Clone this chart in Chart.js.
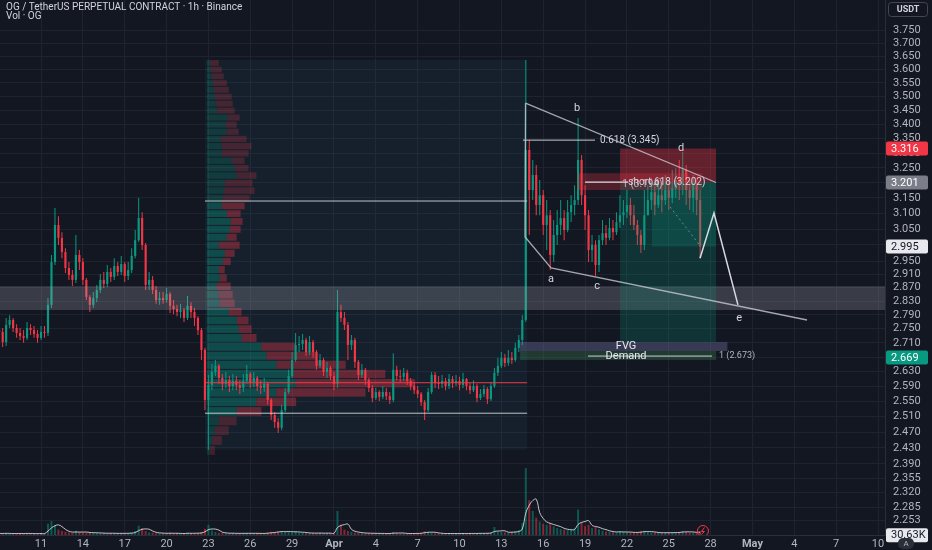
<!DOCTYPE html>
<html>
<head>
<meta charset="utf-8">
<script src="https://cdn.jsdelivr.net/npm/chart.js@4.4.1/dist/chart.umd.min.js"></script>
<style>
  html, body { margin: 0; padding: 0; background: #131722; overflow: hidden; }
  canvas { display: block; }
</style>
</head>
<body>
<canvas id="chart" width="932" height="550"></canvas>
<script>
// 6h candles, day 0 = Mar 11 00:00
const firstDay = -3;
const stepDays = 0.25;
const firstOpen = 2.746;

const closes = [
  2.741, 2.712, 2.761, 2.775, 2.752, 2.738, 2.729, 2.724, 2.752, 2.746,
  2.735, 2.724, 2.741, 2.738, 2.819, 2.947, 3.063, 3.022, 2.978, 2.929,
  2.908, 2.893, 2.969, 2.947, 2.893, 2.842, 2.819, 2.839, 2.863, 2.893,
  2.881, 2.917, 2.902, 2.935, 2.917, 2.941, 2.905, 2.923, 2.966, 3.015,
  3.085, 3.000, 2.878, 2.893, 2.863, 2.833, 2.839, 2.833, 2.851, 2.816,
  2.807, 2.798, 2.804, 2.781, 2.816, 2.798, 2.781, 2.746, 2.690, 2.554,
  2.594, 2.629, 2.646, 2.613, 2.597, 2.607, 2.591, 2.605, 2.594, 2.586,
  2.605, 2.624, 2.599, 2.613, 2.591, 2.586, 2.597, 2.554, 2.514, 2.496,
  2.481, 2.527, 2.575, 2.618, 2.662, 2.704, 2.707, 2.718, 2.684, 2.712,
  2.684, 2.646, 2.662, 2.629, 2.640, 2.618, 2.597, 2.798, 2.781, 2.761,
  2.704, 2.718, 2.657, 2.621, 2.635, 2.607, 2.586, 2.559, 2.575, 2.562,
  2.575, 2.564, 2.554, 2.635, 2.618, 2.616, 2.627, 2.605, 2.591, 2.580,
  2.570, 2.548, 2.527, 2.575, 2.621, 2.599, 2.597, 2.605, 2.591, 2.610,
  2.599, 2.605, 2.594, 2.610, 2.591, 2.580, 2.591, 2.559, 2.570, 2.583,
  2.556, 2.591, 2.627, 2.646, 2.668, 2.654, 2.668, 2.662, 2.696, 2.718,
  2.775, 3.311, 3.176, 3.226, 3.127, 3.159, 3.063, 3.094, 2.969, 3.031,
  3.063, 3.085, 3.047, 3.104, 3.127, 3.143, 3.277, 3.159, 3.094, 2.984,
  3.000, 2.938, 3.015, 3.037, 3.022, 3.053, 3.040, 3.072, 3.094, 3.104,
  3.127, 3.094, 3.063, 3.031, 3.000, 3.094, 3.143, 3.169, 3.127, 3.159,
  3.143, 3.176, 3.150, 3.182, 3.209, 3.192, 3.243, 3.176, 3.150, 3.192,
  3.143, 2.995
];

const highs = [
  2.769, 2.752, 2.781, 2.789, 2.781, 2.763, 2.752, 2.746, 2.769, 2.763,
  2.758, 2.746, 2.758, 2.758, 2.839, 2.969, 3.117, 3.091, 3.040, 2.990,
  2.947, 2.923, 3.031, 2.984, 2.959, 2.899, 2.848, 2.857, 2.878, 2.911,
  2.917, 2.938, 2.929, 2.959, 2.947, 2.966, 2.947, 2.947, 2.990, 3.047,
  3.150, 3.104, 3.006, 2.917, 2.905, 2.875, 2.857, 2.857, 2.869, 2.857,
  2.833, 2.819, 2.822, 2.810, 2.845, 2.827, 2.810, 2.786, 2.752, 2.696,
  2.621, 2.651, 2.662, 2.651, 2.624, 2.629, 2.618, 2.624, 2.618, 2.607,
  2.624, 2.648, 2.629, 2.629, 2.618, 2.607, 2.613, 2.602, 2.559, 2.522,
  2.506, 2.541, 2.586, 2.635, 2.684, 2.738, 2.729, 2.735, 2.724, 2.729,
  2.718, 2.690, 2.679, 2.668, 2.657, 2.646, 2.629, 2.863, 2.819, 2.798,
  2.769, 2.732, 2.724, 2.662, 2.651, 2.640, 2.613, 2.594, 2.586, 2.580,
  2.591, 2.586, 2.575, 2.681, 2.646, 2.635, 2.640, 2.635, 2.613, 2.599,
  2.591, 2.575, 2.554, 2.586, 2.629, 2.629, 2.618, 2.621, 2.613, 2.624,
  2.618, 2.621, 2.616, 2.627, 2.613, 2.599, 2.607, 2.597, 2.583, 2.594,
  2.588, 2.602, 2.640, 2.668, 2.684, 2.679, 2.690, 2.684, 2.710, 2.732,
  2.789, 3.635, 3.345, 3.277, 3.260, 3.209, 3.176, 3.143, 3.111, 3.079,
  3.111, 3.143, 3.111, 3.143, 3.159, 3.192, 3.423, 3.294, 3.192, 3.111,
  3.031, 3.015, 3.031, 3.079, 3.063, 3.085, 3.079, 3.104, 3.159, 3.143,
  3.176, 3.150, 3.127, 3.079, 3.047, 3.176, 3.192, 3.216, 3.192, 3.216,
  3.199, 3.226, 3.209, 3.243, 3.249, 3.277, 3.304, 3.260, 3.209, 3.226,
  3.209, 3.176
];

const lows = [
  2.724, 2.698, 2.701, 2.752, 2.741, 2.724, 2.718, 2.710, 2.718, 2.732,
  2.724, 2.710, 2.718, 2.724, 2.729, 2.810, 2.938, 3.000, 2.959, 2.914,
  2.893, 2.875, 2.884, 2.923, 2.878, 2.833, 2.798, 2.810, 2.827, 2.854,
  2.869, 2.872, 2.887, 2.893, 2.905, 2.908, 2.887, 2.893, 2.914, 2.959,
  3.009, 2.984, 2.863, 2.863, 2.851, 2.822, 2.819, 2.822, 2.825, 2.795,
  2.792, 2.786, 2.781, 2.769, 2.775, 2.781, 2.758, 2.732, 2.662, 2.527,
  2.425, 2.580, 2.618, 2.597, 2.580, 2.586, 2.575, 2.580, 2.580, 2.570,
  2.575, 2.597, 2.586, 2.588, 2.578, 2.570, 2.575, 2.541, 2.501, 2.481,
  2.468, 2.475, 2.522, 2.570, 2.613, 2.657, 2.684, 2.690, 2.673, 2.676,
  2.668, 2.635, 2.640, 2.618, 2.613, 2.607, 2.580, 2.586, 2.769, 2.746,
  2.662, 2.690, 2.640, 2.607, 2.613, 2.594, 2.575, 2.548, 2.554, 2.551,
  2.556, 2.554, 2.543, 2.548, 2.607, 2.602, 2.605, 2.594, 2.580, 2.570,
  2.559, 2.538, 2.501, 2.522, 2.570, 2.586, 2.583, 2.586, 2.580, 2.583,
  2.586, 2.591, 2.580, 2.586, 2.580, 2.570, 2.575, 2.548, 2.554, 2.562,
  2.543, 2.551, 2.586, 2.618, 2.640, 2.643, 2.646, 2.651, 2.657, 2.684,
  2.704, 2.769, 3.031, 3.143, 3.094, 3.094, 3.031, 2.984, 2.923, 2.947,
  3.000, 3.031, 3.015, 3.040, 3.072, 3.094, 3.127, 3.127, 3.047, 2.947,
  2.947, 2.905, 2.917, 3.000, 3.000, 3.015, 3.015, 3.031, 3.053, 3.063,
  3.085, 3.063, 3.047, 3.000, 2.975, 2.984, 3.094, 3.111, 3.094, 3.117,
  3.104, 3.127, 3.111, 3.133, 3.150, 3.143, 3.159, 3.127, 3.111, 3.104,
  3.094, 2.959
];

// volume in K
const volumes = [
  60, 55, 70, 50, 45, 60, 65, 50, 55, 60,
  45, 50, 60, 55, 420, 520, 380, 200, 150, 120,
  90, 80, 160, 110, 90, 80, 100, 80, 70, 60,
  75, 60, 70, 55, 60, 65, 70, 60, 90, 150,
  350, 260, 150, 100, 90, 70, 60, 65, 60, 80,
  55, 60, 50, 55, 90, 60, 55, 70, 120, 230,
  380, 160, 110, 80, 70, 65, 60, 70, 55, 60,
  65, 70, 60, 55, 65, 60, 55, 90, 120, 110,
  130, 150, 110, 130, 100, 140, 90, 80, 70, 75,
  65, 70, 80, 60, 70, 65, 75, 900, 380, 200,
  150, 120, 90, 80, 70, 65, 60, 70, 55, 60,
  50, 55, 60, 110, 70, 55, 60, 50, 55, 60,
  65, 80, 140, 120, 80, 60, 55, 60, 50, 55,
  60, 50, 55, 60, 50, 65, 60, 55, 70, 60,
  75, 90, 300, 120, 110, 100, 90, 120, 140, 180,
  450, 2500, 1300, 900, 650, 500, 420, 380, 450, 320,
  260, 220, 200, 180, 190, 260, 950, 480, 330, 380,
  260, 300, 220, 160, 130, 120, 110, 100, 140, 110,
  100, 90, 95, 100, 140, 160, 110, 95, 90, 85,
  80, 90, 85, 95, 90, 110, 150, 120, 95, 90,
  100, 140
];
const lastVolume = 30.63;

const tickDays = [0, 3, 6, 9, 12, 15, 18, 21, 24, 27, 30, 33, 36, 39, 42, 45, 48, 51, 54, 57, 60];
const tickLabels = ['11', '14', '17', '20', '23', '26', '29', 'Apr', '4', '7', '10', '13', '16', '19', '22', '25', '28', 'May', '4', '7', '10'];

const priceTicks = [
  3.750, 3.700, 3.650, 3.600, 3.550, 3.500, 3.450, 3.400, 3.350, 3.300,
  3.250, 3.200, 3.150, 3.100, 3.050, 3.000, 2.950, 2.910, 2.870, 2.830,
  2.790, 2.750, 2.710, 2.670, 2.630, 2.590, 2.550, 2.510, 2.470, 2.430,
  2.390, 2.355, 2.320, 2.285, 2.253
];

// fixed range volume profile, rows of 0.025 from 2.410 upward
const profileLow = 2.410;
const profileStep = 0.025;
const profileUp = [
  30, 50, 80, 120, 300, 500, 700, 900, 850, 700,
  600, 550, 350, 320, 300, 220, 130, 120, 100, 130,
  120, 160, 180, 120, 200, 230, 240, 200, 150, 160,
  170, 180, 300, 280, 250, 150, 150, 140, 200, 190,
  210, 100, 90, 80, 70, 60, 50, 40, 30
];
const profileDown = [
  50, 100, 140, 180, 250, 400, 900, 1200, 950, 700,
  500, 350, 150, 130, 120, 130, 150, 140, 140, 70,
  60, 80, 100, 210, 100, 110, 120, 140, 230, 270,
  310, 280, 200, 140, 130, 270, 300, 260, 120, 110,
  120, 180, 170, 170, 150, 140, 120, 110, 90
];
const profileRange = { start: 11.75, end: 34.85, high: 3.635, low: 2.425 };
const profileLevels = { vah: 3.140, poc: 2.600, val: 2.519 };

// drawings
const zone = { low: 2.804, high: 2.874 };
const position = { start: 41.51, end: 48.39, entry: 3.201, stop: 3.316, target: 2.712, fill: 43.8, current: 2.995 };
const shortBox = { start: 38.42, end: 47.38, low: 3.176, high: 3.232 };
const fvg = { start: 34.34, end: 49.2, low: 2.687, high: 2.712, labelDay: 41.94 };
const demand = { start: 34.34, end: 48.39, low: 2.662, high: 2.687, level: 2.673, lineStart: 39.21, lineEnd: 48.1 };
const fibLine = { start: 34.55, end: 39.71, price: 3.345 };
const shortLine = { start: 39.0, end: 42.1, price: 3.202 };
const wedgeUpper = [[34.73, 3.476], [48.39, 3.201]];
const wedgeLower = [[34.73, 3.476], [34.70, 3.025], [36.56, 2.929], [54.91, 2.775]];
const projection = [[47.24, 2.959], [48.24, 3.101], [49.96, 2.819]];
const dashedPath = [[45.09, 3.121], [47.24, 2.998]];
const waveLabels = [['a', 36.56, 2.896], ['b', 38.42, 3.458], ['c', 39.86, 2.875], ['d', 45.88, 3.318], ['e', 50.04, 2.781]];

const bgColor = '#131722';
const gridColor = '#1f2330';
const textColor = '#b2b5be';
const upColor = '#089981';
const downColor = '#f23645';
const fontFamily = "Roboto, 'Noto Sans', sans-serif";

const days = closes.map((_, i) => firstDay + i * stepDays);
const opens = closes.map((c, i) => i === 0 ? firstOpen : closes[i - 1]);
const isUp = closes.map((c, i) => c >= opens[i]);
const candleColors = isUp.map(u => u ? upColor : downColor);
const volColors = isUp.map(u => u ? 'rgba(8,153,129,0.5)' : 'rgba(242,54,69,0.5)');
const volMA = volumes.map((v, i) => {
  const s = volumes.slice(Math.max(0, i - 3), i + 1);
  return s.reduce((a, b) => a + b, 0) / s.length;
});

function pathLine(ctx, chart, pts, color, width, dash) {
  const x = chart.scales.x, y = chart.scales.y;
  ctx.save();
  ctx.strokeStyle = color;
  ctx.lineWidth = width;
  ctx.setLineDash(dash || []);
  ctx.beginPath();
  pts.forEach((p, i) => {
    const px = x.getPixelForValue(p[0]), py = y.getPixelForValue(p[1]);
    if (i === 0) ctx.moveTo(px, py); else ctx.lineTo(px, py);
  });
  ctx.stroke();
  ctx.restore();
}

function box(ctx, chart, d1, d2, p1, p2, color) {
  const x = chart.scales.x, y = chart.scales.y;
  const x1 = x.getPixelForValue(d1), x2 = x.getPixelForValue(d2);
  const y1 = y.getPixelForValue(p1), y2 = y.getPixelForValue(p2);
  ctx.fillStyle = color;
  ctx.fillRect(Math.min(x1, x2), Math.min(y1, y2), Math.abs(x2 - x1), Math.abs(y2 - y1));
}

function text(ctx, str, px, py, color, size, align, weight) {
  ctx.font = (weight || 'normal') + ' ' + size + 'px ' + fontFamily;
  ctx.fillStyle = color;
  ctx.textAlign = align || 'left';
  ctx.textBaseline = 'middle';
  ctx.fillText(str, px, py);
}

function axisTag(ctx, py, str, bg, fg) {
  ctx.fillStyle = bg;
  ctx.beginPath();
  ctx.roundRect(886, py - 7, 42, 14, 2);
  ctx.fill();
  text(ctx, str, 891, py + 0.5, fg, 11);
}

const drawings = {
  id: 'drawings',
  beforeDraw(chart) {
    const ctx = chart.ctx;
    ctx.save();
    ctx.fillStyle = bgColor;
    ctx.fillRect(0, 0, chart.width, chart.height);
    ctx.restore();
  },
  beforeDatasetsDraw(chart) {
    const ctx = chart.ctx, a = chart.chartArea;
    const x = chart.scales.x, y = chart.scales.y;
    ctx.save();
    ctx.beginPath();
    ctx.rect(a.left, a.top, a.right - a.left, a.bottom - a.top);
    ctx.clip();
    // range box
    box(ctx, chart, profileRange.start, profileRange.end, profileRange.high, profileRange.low, 'rgba(41,128,150,0.09)');
    // profile rows
    const x0 = x.getPixelForValue(profileRange.start) + 2;
    const boxW = x.getPixelForValue(profileRange.end) - x0;
    const totals = profileUp.map((u, i) => u + profileDown[i]);
    const maxTotal = Math.max(...totals);
    const scale = boxW * 0.65 / maxTotal;
    profileUp.forEach((u, i) => {
      const lo = profileLow + i * profileStep, hi = lo + profileStep;
      const yTop = y.getPixelForValue(hi), yBot = y.getPixelForValue(lo);
      const h = Math.max(1, yBot - yTop - 1);
      const inside = lo >= profileLevels.val - 0.01 && hi <= profileLevels.vah + 0.01;
      const al = inside ? 0.36 : 0.22;
      const wu = u * scale, wd = profileDown[i] * scale;
      ctx.fillStyle = 'rgba(8,153,129,' + al + ')';
      ctx.fillRect(x0, yTop, wu, h);
      ctx.fillStyle = 'rgba(242,54,69,' + al + ')';
      ctx.fillRect(x0 + wu, yTop, wd, h);
    });
    ctx.restore();
  },
  afterDatasetsDraw(chart) {
    const ctx = chart.ctx, a = chart.chartArea;
    const x = chart.scales.x, y = chart.scales.y;
    ctx.save();
    ctx.beginPath();
    ctx.rect(a.left, a.top, a.right - a.left, a.bottom - a.top);
    ctx.clip();

    // support zone
    box(ctx, chart, x.min, x.max, zone.high, zone.low, 'rgba(178,181,190,0.24)');
    // profile levels
    pathLine(ctx, chart, [[profileRange.start, profileLevels.vah], [profileRange.end, profileLevels.vah]], 'rgba(220,222,228,0.85)', 1);
    pathLine(ctx, chart, [[profileRange.start, profileLevels.val], [profileRange.end, profileLevels.val]], 'rgba(220,222,228,0.85)', 1);
    pathLine(ctx, chart, [[profileRange.start, profileLevels.poc], [profileRange.end, profileLevels.poc]], downColor, 1);

    // position tool
    box(ctx, chart, position.start, position.end, position.stop, position.entry, 'rgba(242,54,69,0.36)');
    box(ctx, chart, position.start, position.end, position.entry, position.target, 'rgba(8,153,129,0.22)');
    box(ctx, chart, position.fill, position.end, position.entry, position.current, 'rgba(8,153,129,0.22)');
    box(ctx, chart, shortBox.start, shortBox.end, shortBox.high, shortBox.low, 'rgba(242,54,69,0.28)');

    // FVG / demand
    box(ctx, chart, fvg.start, fvg.end, fvg.high, fvg.low, 'rgba(125,120,175,0.35)');
    box(ctx, chart, demand.start, demand.end, demand.high, demand.low, 'rgba(70,150,95,0.28)');

    // fib + short lines
    pathLine(ctx, chart, [[fibLine.start, fibLine.price], [fibLine.end, fibLine.price]], 'rgba(220,222,228,0.9)', 1);
    text(ctx, '0.618 (3.345)', x.getPixelForValue(fibLine.end) + 5, y.getPixelForValue(fibLine.price), '#d1d4dc', 10);
    pathLine(ctx, chart, [[shortLine.start, shortLine.price], [shortLine.end, shortLine.price]], 'rgba(230,232,238,0.95)', 1.2);
    const sy = y.getPixelForValue(shortLine.price);
    text(ctx, 'short 618 (3.202)', x.getPixelForValue(shortLine.end), sy, '#d1d4dc', 10);
    text(ctx, '1 (3.194)', x.getPixelForValue(shortLine.end) - 6, sy + 2, 'rgba(209,212,220,0.8)', 10);

    // wedge
    pathLine(ctx, chart, wedgeUpper, 'rgba(200,203,212,0.8)', 1.3);
    pathLine(ctx, chart, wedgeLower, 'rgba(200,203,212,0.8)', 1.3);
    pathLine(ctx, chart, dashedPath, 'rgba(178,181,190,0.6)', 1, [2, 3]);
    pathLine(ctx, chart, projection, 'rgba(225,227,233,0.95)', 1.5);
    waveLabels.forEach(l => text(ctx, l[0], x.getPixelForValue(l[1]), y.getPixelForValue(l[2]), '#d1d4dc', 11, 'center'));

    // demand line and labels
    pathLine(ctx, chart, [[demand.lineStart, demand.level], [demand.lineEnd, demand.level]], 'rgba(220,222,228,0.9)', 1);
    const fx = x.getPixelForValue(fvg.labelDay);
    text(ctx, 'FVG', fx, y.getPixelForValue((fvg.high + fvg.low) / 2), '#e8e9ee', 11, 'center');
    text(ctx, 'Demand', fx, y.getPixelForValue(demand.level), '#e8e9ee', 11, 'center');
    text(ctx, '1 (2.673)', x.getPixelForValue(demand.lineEnd) + 7, y.getPixelForValue(demand.level), textColor, 9);

    // header
    text(ctx, 'OG / TetherUS PERPETUAL CONTRACT · 1h · Binance', 6, 7, '#d1d4dc', 10);
    text(ctx, 'Vol · OG', 6, 16, '#d1d4dc', 10);

    // alert icon
    const ix = x.getPixelForValue(47.45), iy = 531;
    ctx.strokeStyle = downColor;
    ctx.lineWidth = 1;
    ctx.beginPath();
    ctx.arc(ix, iy, 5.5, 0, Math.PI * 2);
    ctx.stroke();
    ctx.beginPath();
    ctx.moveTo(ix + 1.5, iy - 3.5);
    ctx.lineTo(ix - 1.5, iy + 0.5);
    ctx.lineTo(ix + 1.5, iy + 0.5);
    ctx.lineTo(ix - 1.5, iy + 3.5);
    ctx.stroke();
    ctx.restore();

    // price axis tags
    ctx.save();
    axisTag(ctx, y.getPixelForValue(position.stop), '3.316', '#f23645', '#ffffff');
    axisTag(ctx, y.getPixelForValue(position.entry), '3.201', '#7b7e88', '#ffffff');
    axisTag(ctx, y.getPixelForValue(closes[closes.length - 1]), closes[closes.length - 1].toFixed(3), '#e8e9ee', '#131722');
    axisTag(ctx, y.getPixelForValue(2.669), '2.669', '#089981', '#ffffff');
    const vy = Math.min(chart.scales.yv.getPixelForValue(lastVolume), 536);
    axisTag(ctx, vy + 1, lastVolume.toFixed(2) + 'K', '#e8e9ee', '#131722');
    // currency box
    ctx.strokeStyle = '#434651';
    ctx.lineWidth = 1;
    ctx.beginPath();
    ctx.roundRect(888.5, 2.5, 39, 14, 3);
    ctx.stroke();
    text(ctx, 'USDT', 908, 10, '#d1d4dc', 9, 'center', 'bold');
    // auto scale button
    ctx.fillStyle = '#2a2e39';
    ctx.beginPath();
    ctx.roundRect(898, 538, 16, 11, 5);
    ctx.fill();
    text(ctx, 'A', 906, 544, textColor, 8, 'center');
    ctx.restore();
  }
};

Chart.defaults.font.family = fontFamily;
Chart.defaults.font.size = 11;

new Chart(document.getElementById('chart'), {
  type: 'bar',
  data: {
    datasets: [
      {
        label: 'bodies',
        data: days.map((d, i) => ({ x: d, y: [opens[i], closes[i]] })),
        backgroundColor: candleColors,
        grouped: false,
        barPercentage: 0.62,
        categoryPercentage: 1,
        minBarLength: 1,
        yAxisID: 'y',
        order: 0
      },
      {
        label: 'wicks',
        data: days.map((d, i) => ({ x: d, y: [lows[i], highs[i]] })),
        backgroundColor: candleColors,
        grouped: false,
        maxBarThickness: 1,
        yAxisID: 'y',
        order: 1
      },
      {
        label: 'volume',
        data: days.map((d, i) => ({ x: d, y: volumes[i] })),
        backgroundColor: volColors,
        grouped: false,
        maxBarThickness: 2,
        yAxisID: 'yv',
        order: 3
      },
      {
        type: 'line',
        label: 'volume MA',
        data: days.map((d, i) => ({ x: d, y: volMA[i] })),
        borderColor: 'rgba(235,236,240,0.8)',
        borderWidth: 1,
        pointRadius: 0,
        tension: 0.4,
        yAxisID: 'yv',
        order: 2
      }
    ]
  },
  options: {
    responsive: false,
    animation: false,
    devicePixelRatio: 1,
    layout: { padding: 0 },
    plugins: { legend: { display: false }, tooltip: { enabled: false } },
    scales: {
      x: {
        type: 'linear',
        min: -2.94,
        max: 60.5,
        bounds: 'data',
        offset: false,
        grid: { color: gridColor, drawTicks: false, offset: false },
        border: { display: true, color: '#2a2e39' },
        ticks: {
          color: textColor,
          padding: 3,
          maxRotation: 0,
          autoSkip: false,
          font: ctx => ({ size: 11, weight: (tickLabels[ctx.index] === 'Apr' || tickLabels[ctx.index] === 'May') ? 'bold' : 'normal' }),
          callback: (v, i) => tickLabels[i]
        },
        afterBuildTicks: s => { s.ticks = tickDays.map(v => ({ value: v })); },
        afterFit: s => { s.height = 15; s.paddingLeft = 0; s.paddingRight = 0; }
      },
      y: {
        type: 'logarithmic',
        position: 'right',
        min: 2.2197,
        max: 3.869,
        bounds: 'data',
        grid: { color: gridColor, drawTicks: false },
        border: { display: true, color: '#2a2e39' },
        ticks: {
          color: textColor,
          padding: 8,
          autoSkip: false,
          font: { size: 11 },
          callback: v => Number(v).toFixed(3)
        },
        afterBuildTicks: s => { s.ticks = priceTicks.map(v => ({ value: v })); },
        afterFit: s => { s.width = 47; s.paddingTop = 0; s.paddingBottom = 0; }
      },
      yv: {
        type: 'linear',
        display: false,
        min: 0,
        max: 20000
      }
    }
  },
  plugins: [drawings]
});
</script>
</body>
</html>
